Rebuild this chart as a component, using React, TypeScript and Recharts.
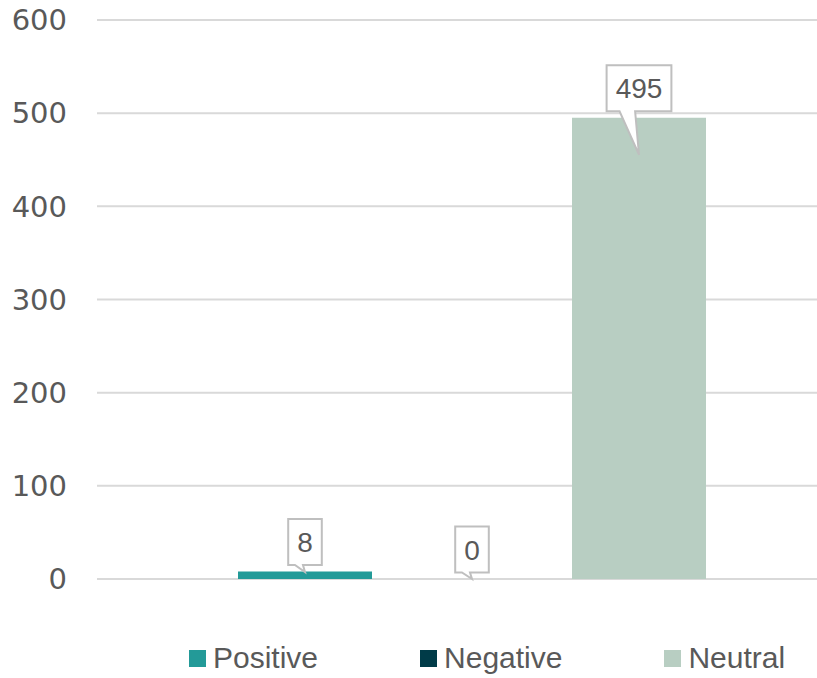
import React from 'react';
import { BarChart, Bar, XAxis, YAxis, CartesianGrid, LabelList } from 'recharts';

const seriesNames = ['Positive', 'Negative', 'Neutral'];
const seriesValues = [8, 0, 495];
const seriesColors = ['#239A98', '#003B48', '#B8CEC2'];
const yTicks = [0, 100, 200, 300, 400, 500, 600];

const row: Record<string, string | number> = { name: 'Sentiment' };
seriesNames.forEach((n, i) => {
  row[n] = seriesValues[i];
});
const data = [row];

const TEXT = '#595959';

function renderCallout(props: any) {
  const { x, y, width, height, value } = props;
  const cx = Number(x) + Number(width) / 2;
  const h0 = Math.max(0, Number(height) || 0);
  const top0 = Number(y) + (h0 < 0.5 ? h0 : 0);
  const w = String(value).length * 15.6 + 18;
  const h = 46;
  const bottom = top0 - 6.5;
  const top = bottom - h;
  const left = cx - w / 2;
  const right = cx + w / 2;
  const tipY = top0 + h0 * 0.08;
  const b1 = cx - w * 0.3;
  const b2 = cx - w * 0.06;
  const path = `M${left},${top} L${right},${top} L${right},${bottom} L${b2},${bottom} L${cx},${tipY} L${b1},${bottom} L${left},${bottom} Z`;
  return (
    <g key={`callout-${cx}`}>
      <path d={path} fill="#FFFFFF" stroke="#BFBFBF" strokeWidth={2} />
      <text
        x={cx}
        y={top + h / 2}
        dy="0.36em"
        textAnchor="middle"
        fill={TEXT}
        fontSize={28}
        fontFamily="Liberation Sans, Arial, sans-serif"
      >
        {String(value)}
      </text>
    </g>
  );
}

function Legendary() {
  return (
    <div
      style={{
        position: 'absolute',
        left: 189,
        top: 641,
        height: 34,
        display: 'flex',
        alignItems: 'center',
        gap: 102,
        fontFamily: 'Liberation Sans, Arial, sans-serif',
        fontSize: 30,
        color: TEXT,
        whiteSpace: 'nowrap',
      }}
    >
      {seriesNames.map((n, i) => (
        <div key={n} style={{ display: 'flex', alignItems: 'center' }}>
          <span
            style={{
              display: 'inline-block',
              width: 17,
              height: 17,
              background: seriesColors[i],
              marginRight: 7,
            }}
          />
          <span>{n}</span>
        </div>
      ))}
    </div>
  );
}

export default function App() {
  return (
    <div
      style={{
        position: 'fixed',
        left: 0,
        top: 0,
        width: 817,
        height: 678,
        overflow: 'hidden',
        background: '#FFFFFF',
      }}
    >
      <BarChart
        width={847}
        height={678}
        data={data}
        margin={{ top: 20, right: 0, left: 0, bottom: 99 }}
        barSize={134}
        barGap={33}
      >
        <CartesianGrid vertical={false} stroke="#D9D9D9" strokeWidth={2} />
        <XAxis dataKey="name" hide />
        <YAxis
          domain={[0, 600]}
          ticks={yTicks}
          width={97}
          axisLine={false}
          tickLine={false}
          tickSize={0}
          tickMargin={30}
          tick={{ fill: TEXT, fontSize: 29, fontFamily: 'DejaVu Sans' }}
          interval={0}
        />
        {seriesNames.map((n, i) => (
          <Bar
            key={n}
            dataKey={n}
            fill={seriesColors[i]}
            minPointSize={0.01}
            isAnimationActive={false}
          >
            <LabelList dataKey={n} content={renderCallout} />
          </Bar>
        ))}
      </BarChart>
      <Legendary />
    </div>
  );
}
